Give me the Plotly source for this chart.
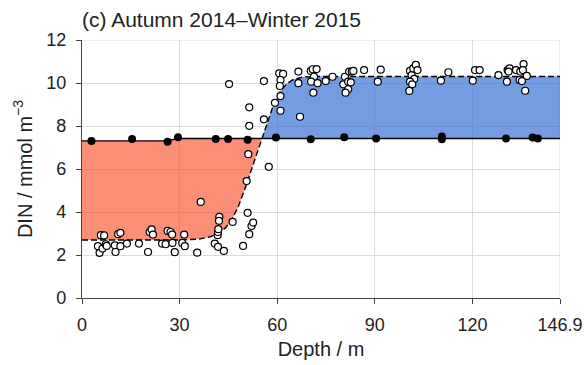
import numpy as np
import plotly.graph_objects as go

# ---- data ----
# model curve (dashed)
curve_depth = [0, 30, 36, 39.5, 42, 44, 46, 48, 50, 52, 54, 55.3, 57, 59, 61, 63, 65, 68, 72, 146.9]
curve_din = [2.70, 2.70, 2.74, 2.85, 3.02, 3.25, 3.62, 4.25, 5.05, 5.95, 6.85, 7.42, 8.2, 9.05, 9.62, 9.98, 10.17, 10.28, 10.30, 10.30]

# mean line (solid)
mean_depth = [0, 26, 29.5, 146.9]
mean_din = [7.31, 7.31, 7.42, 7.42]

# filled (black) points
mean_pts_depth = [2.9, 15.4, 26.3, 29.5, 41.1, 44.9, 50.9, 59.6, 70.3, 80.6, 90.4, 110.6, 110.6, 130.3, 138.5, 140.1]
mean_pts_din = [7.30, 7.39, 7.27, 7.48, 7.39, 7.39, 7.36, 7.47, 7.38, 7.48, 7.42, 7.51, 7.38, 7.42, 7.46, 7.42]

# observations (open circles)
obs_depth = [4.9, 5.4, 5.8, 6.8, 6.3, 7.3, 7.6, 10.1, 10.3, 11.1, 11.8, 11.8, 13.8,
             17.5, 20.3, 20.8, 21.4, 21.8, 24.6, 25.7, 26.3, 27.2, 27.7, 27.8, 28.5,
             30.8, 31.4, 31.6, 35.4, 36.5, 40.8, 41.8, 41.7, 41.8, 41.9, 42.2, 42.1, 43.6,
             46.3, 49.5, 50.6, 50.9, 51.4, 52.1, 52.6, 51.1, 57.4,
             45.2, 55.9, 51.4, 51.4, 55.9, 59.3, 61.0, 61.0, 60.6, 61.8, 61.0, 60.8,
             66.5, 66.5, 67.0, 70.3, 70.9, 72.1, 71.3, 70.4, 72.4, 71.1, 74.9, 77.0,
             80.8, 82.1, 82.9, 83.4, 80.3, 81.8, 81.8, 81.0, 82.6, 86.7, 91.8, 90.9,
             100.8, 101.3, 101.8, 102.6, 103.1, 102.1, 100.8, 101.5, 100.6,
             110.3, 112.6, 120.1, 120.8, 122.2, 128.0,
             130.6, 130.8, 131.4, 131.1, 133.4, 134.7, 135.7, 135.5, 136.7, 134.5, 135.2, 136.2]
obs_din = [2.41, 2.10, 2.92, 2.91, 2.30, 2.50, 2.42, 2.45, 2.14, 2.97, 3.03, 2.41, 2.53,
           2.53, 2.14, 3.07, 3.19, 2.95, 2.53, 2.50, 3.12, 3.07, 2.95, 2.56, 2.13,
           2.56, 2.95, 2.41, 2.11, 4.47, 2.53, 2.38, 2.92, 3.07, 3.20, 3.77, 3.59, 2.19,
           3.54, 2.42, 5.44, 3.96, 2.97, 3.35, 3.51, 6.69, 6.10,
           9.95, 10.09, 8.87, 8.01, 8.31, 9.08, 9.39, 8.71, 10.45, 10.42, 10.14, 9.86,
           10.53, 9.99, 8.43, 10.56, 10.64, 10.65, 10.29, 10.06, 9.99, 9.55, 10.09, 10.29,
           10.29, 10.53, 10.53, 10.56, 9.94, 10.06, 9.71, 9.55, 10.03, 10.60, 10.62, 10.06,
           10.56, 10.37, 10.68, 10.84, 10.60, 10.19, 10.06, 9.94, 9.63,
           10.11, 10.50, 10.11, 10.60, 10.60, 10.37,
           10.06, 10.60, 10.68, 10.53, 10.60, 10.53, 10.88, 10.60, 10.33, 10.14, 10.09, 9.64]

x_tickvals = [0, 30, 60, 90, 120, 146.9]
x_ticktext = ["0", "30", "60", "90", "120", "146.9"]
y_tickvals = [0, 2, 4, 6, 8, 10, 12]

# ---- build fill polygons from the curve and mean line ----
cd = np.array(curve_depth)
cv = np.array(curve_din)
md = np.array(mean_depth)
mv = np.array(mean_din)
line_at_curve = np.interp(cd, md, mv)
below = cv <= line_at_curve + 1e-9
cross = cd[below].max()
cross_v = float(np.interp(cross, md, mv))

red_x = list(cd[below]) + [cross] + list(md[md < cross][::-1])
red_y = list(cv[below]) + [cross_v] + list(mv[md < cross][::-1])

above = cd >= cross
blue_x = list(cd[above]) + list(md[md > cross][::-1]) + [cross]
blue_y = list(cv[above]) + list(mv[md > cross][::-1]) + [cross_v]

fig = go.Figure()
fig.add_trace(go.Scatter(x=red_x, y=red_y, fill="toself", mode="none",
                         fillcolor="rgba(247,78,42,0.64)", hoverinfo="skip"))
fig.add_trace(go.Scatter(x=blue_x, y=blue_y, fill="toself", mode="none",
                         fillcolor="rgba(48,108,210,0.67)", hoverinfo="skip"))
fig.add_trace(go.Scatter(x=curve_depth, y=curve_din, mode="lines",
                         line=dict(color="black", width=1.4, dash="6px,3px")))
fig.add_trace(go.Scatter(x=mean_depth, y=mean_din, mode="lines",
                         line=dict(color="black", width=1.4)))
fig.add_trace(go.Scatter(x=obs_depth, y=obs_din, mode="markers",
                         marker=dict(symbol="circle", size=7, color="white",
                                     line=dict(color="black", width=1.2))))
fig.add_trace(go.Scatter(x=mean_pts_depth, y=mean_pts_din, mode="markers",
                         marker=dict(symbol="circle", size=8, color="black",
                                     line=dict(width=0))))

font = "Liberation Sans, Arial, sans-serif"
fig.update_layout(
    width=587, height=365,
    margin=dict(l=82, r=27, t=40, b=67),
    paper_bgcolor="white", plot_bgcolor="white",
    showlegend=False,
    font=dict(family=font, size=17, color="#222"),
    title=dict(text="(c) Autumn 2014–Winter 2015", x=82 / 587, xanchor="left",
               xref="container", y=1 - 20 / 365, yanchor="middle", yref="container",
               font=dict(family=font, size=21, color="#222")),
    xaxis=dict(range=[0, 146.9], tickvals=x_tickvals, ticktext=x_ticktext,
               showgrid=True, gridcolor="#dcdcdc", gridwidth=1,
               showline=True, linecolor="#444", linewidth=1.2,
               ticks="outside", ticklen=5, tickcolor="#444", zeroline=False,
               ticklabelstandoff=5, automargin=False,
               title=dict(text="Depth / m", standoff=8, font=dict(size=20)),
               tickfont=dict(size=18)),
    yaxis=dict(range=[0, 12], tickvals=y_tickvals,
               showgrid=True, gridcolor="#dcdcdc", gridwidth=1,
               showline=True, linecolor="#444", linewidth=1.2,
               ticks="outside", ticklen=5, tickcolor="#444", zeroline=False,
               ticklabelstandoff=6, automargin=False,
               title=dict(text="DIN / mmol m<sup>−3</sup>", standoff=8, font=dict(size=20)),
               tickfont=dict(size=18)),
)
fig.add_shape(type="line", xref="x", yref="paper", x0=146.9, x1=146.9, y0=0, y1=1,
              line=dict(color="#dcdcdc", width=1), layer="below")
fig.add_shape(type="line", xref="paper", yref="y", x0=0, x1=1, y0=12, y1=12,
              line=dict(color="#dcdcdc", width=1), layer="below")
fig.write_html("out.html")
